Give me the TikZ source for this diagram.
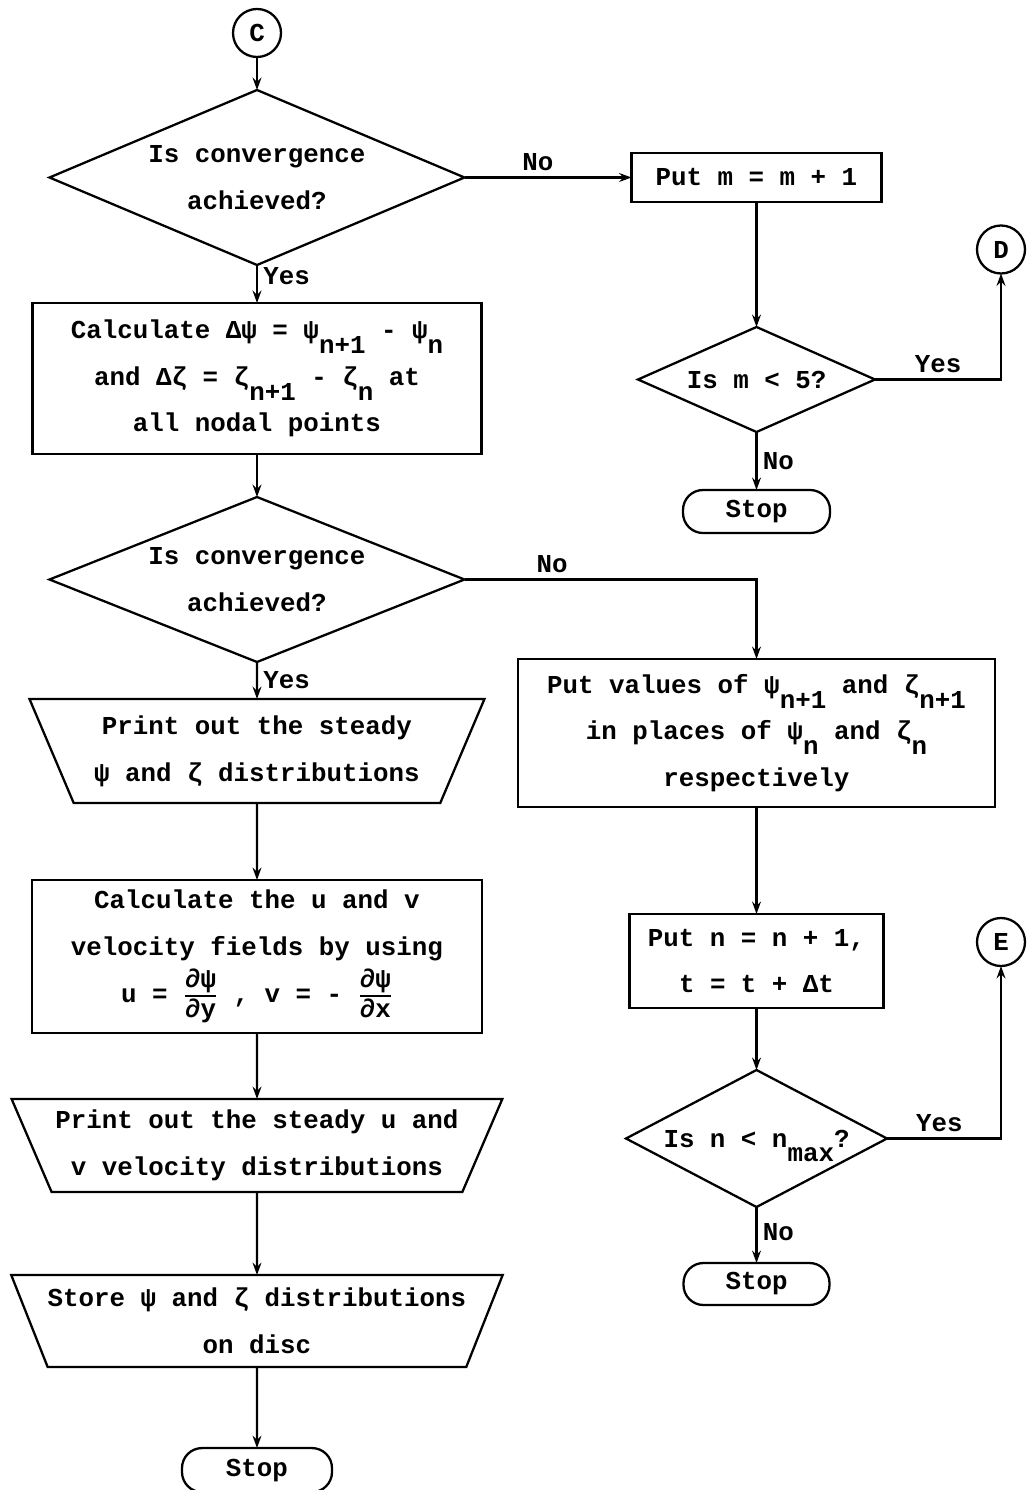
\documentclass[tikz,border=0pt]{standalone}
\usepackage{amsmath}
\usepackage{fontspec}
\setmainfont{Liberation Mono}
\usetikzlibrary{shapes.geometric,positioning,arrows.meta}
\newcommand\lowsub[1]{\raisebox{-8.5pt}[0pt][0pt]{#1}}
\newcommand\pfrac[2]{$\genfrac{}{}{1.1pt}{1}{\hbox{#1}}{\hbox{#2}}$}
\tikzset{
  every node/.style={font=\fontsize{14.7}{26.6}\selectfont\bfseries},
  >={Stealth[length=7pt,width=5pt]},
  proc/.style={draw,line width=1.3pt,rectangle,align=center,inner sep=0pt,outer sep=0pt},
  decision/.style={draw,line width=1.3pt,diamond,align=center,inner sep=0pt,outer sep=0pt},
  io/.style={draw,line width=1.3pt,trapezium,trapezium left angle=119,
    trapezium right angle=119,trapezium stretches=true,align=center,inner sep=0pt,outer sep=0pt},
  term/.style={draw,line width=1.3pt,rectangle,rounded corners=0.4cm,inner sep=0pt,outer sep=0pt},
  conn/.style={draw,line width=1.3pt,circle,minimum size=0.96cm,inner sep=0pt,outer sep=0pt},
  lbl/.style={inner sep=3pt},
}
\begin{document}
\begin{tikzpicture}
  \useasboundingbox (0,0) rectangle (20.52,-29.8);
  % left column
  \node[conn] (c) at (5.14,-0.66) {C};
  \node[decision,aspect=2.37,minimum width=8.3cm,minimum height=3.5cm,below=0.66cm of c] (d1)
    {Is convergence\\achieved?};
  \node[proc,minimum width=8.98cm,minimum height=3.02cm,below=0.76cm of d1] (box2)
    {Calculate Δψ = ψ\lowsub{n+1} - ψ\lowsub{n}\\and Δζ = ζ\lowsub{n+1} - ζ\lowsub{n} at\\all nodal points};
  \node[decision,aspect=2.5,minimum width=8.3cm,minimum height=3.3cm,below=0.86cm of box2] (d2)
    {Is convergence\\achieved?};
  \node[io,minimum width=9.1cm,minimum height=2.08cm,below=0.74cm of d2] (trap1)
    {Print out the steady\\ψ and ζ distributions};
  \node[proc,minimum width=9cm,minimum height=3.06cm,below=1.54cm of trap1] (box4)
    {Calculate the u and v\\velocity fields by using\\u = \pfrac{∂ψ}{∂y} , v = - \pfrac{∂ψ}{∂x}};
  \node[io,minimum width=9.82cm,minimum height=1.86cm,below=1.32cm of box4] (trap2)
    {Print out the steady u and\\v velocity distributions};
  \node[io,minimum width=9.74cm,minimum height=1.84cm,below=1.66cm of trap2] (trap3)
    {Store ψ and ζ distributions\\on disc};
  \node[term,minimum width=3cm,minimum height=0.88cm,below=1.62cm of trap3] (stop3) {Stop};
  % right column
  \node[proc,minimum width=5cm,minimum height=0.98cm,right=3.34cm of d1] (mbox) {Put m = m + 1};
  \node[decision,aspect=2.26,minimum width=4.74cm,minimum height=2.1cm,below=2.5cm of mbox] (dm)
    {Is m < 5?};
  \node[conn] (d) at ([shift={(2.52,2.6)}]dm.east) {D};
  \node[term,minimum width=2.94cm,minimum height=0.86cm,below=1.16cm of dm] (stop1) {Stop};
  \node[proc,minimum width=9.54cm,minimum height=2.96cm,below=2.52cm of stop1] (box3)
    {Put values of ψ\lowsub{n+1} and ζ\lowsub{n+1}\\in places of ψ\lowsub{n} and ζ\lowsub{n}\\respectively};
  \node[proc,minimum width=5.08cm,minimum height=1.88cm,below=2.14cm of box3] (box5)
    {Put n = n + 1,\\t = t + Δt};
  \node[conn] (e) at ([shift={(2.35,0.38)}]box5.east) {E};
  \node[decision,aspect=1.9,minimum width=5.22cm,minimum height=2.74cm,below=1.24cm of box5] (dn)
    {Is n < n\lowsub{max}?};
  \node[term,minimum width=2.92cm,minimum height=0.84cm,below=1.12cm of dn] (stop2) {Stop};

  \path[->,line width=1.2pt]
    (c) edge (d1)
    (d1) edge node[lbl,above,pos=0.44] {No} (mbox)
    (d1) edge node[lbl,right,pos=0.3] {Yes} (box2)
    (mbox) edge (dm)
    (dm) edge node[lbl,right,pos=0.5] {No} (stop1)
    (box2) edge (d2)
    (d2) edge node[lbl,right,pos=0.5] {Yes} (trap1)
    (trap1) edge (box4)
    (box4) edge (trap2)
    (trap2) edge (trap3)
    (trap3) edge (stop3)
    (box3) edge (box5)
    (box5) edge (dn)
    (dn) edge node[lbl,right,pos=0.45] {No} (stop2);
  \draw[->,line width=1.2pt] (dm.east) -| node[lbl,above,pos=0.25] {Yes} (d);
  \draw[->,line width=1.2pt] (d2.east) -| node[lbl,above,pos=0.15] {No} (box3);
  \draw[->,line width=1.2pt] (dn.east) -| node[lbl,above,pos=0.23] {Yes} (e);
\end{tikzpicture}
\end{document}
